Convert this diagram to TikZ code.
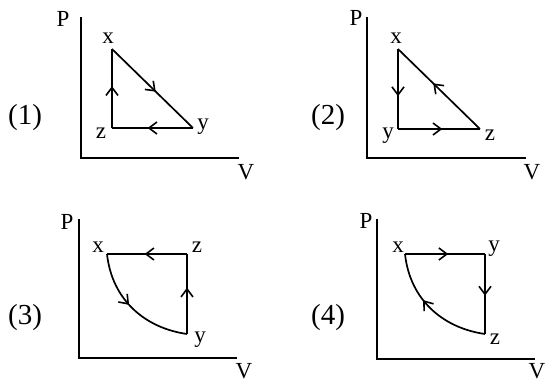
\documentclass[tikz,border=0pt]{standalone}
\usepackage{fontspec}
\setmainfont{Liberation Serif}
\usetikzlibrary{arrows.meta,decorations.markings}
\tikzset{
  axisline/.style={line width=2pt, line cap=butt},
  cycleline/.style={line width=1.7pt, line join=miter},
  lbl/.style={inner sep=0pt, font=\fontsize{23}{24}\selectfont},
  num/.style={inner sep=0pt, font=\fontsize{29}{30}\selectfont},
  midarrow/.style={postaction={decorate,decoration={markings,
    mark=at position #1 with {\arrow{Straight Barb[length=8pt,width=12pt,line width=1.6pt]}}}}},
  pt/.style={coordinate}
}
\begin{document}
\begin{tikzpicture}[x=1pt,y=-1pt]
\useasboundingbox (0,0) rectangle (547,383);
% ---------- Panel 1 ----------
\coordinate (o1) at (81,158);
\coordinate (t1) at (81,17);
\coordinate (r1) at (239,158);
\draw[axisline] (t1) -- (o1) -- (r1);
\node[lbl] (P1) at (63,19) {P};
\node[lbl] (V1) at (246,172) {V};
\node[num] (n1) at (25,118) {(1)};
\coordinate (x1) at (112,49);
\coordinate (y1) at (193,128);
\coordinate (z1) at (112,128);
\node[lbl] (lx1) at (108,38) {x};
\node[lbl] (ly1) at (203,127) {y};
\node[lbl] (lz1) at (101,133) {z};
\draw[cycleline, midarrow=0.54] (x1) -- (y1);
\draw[cycleline, midarrow=0.56] (y1) -- (z1);
\draw[cycleline, midarrow=0.53] (z1) -- (x1);
% ---------- Panel 2 ----------
\coordinate (o2) at (367,158);
\coordinate (t2) at (367,17);
\coordinate (r2) at (526,158);
\draw[axisline] (t2) -- (o2) -- (r2);
\node[lbl] (P2) at (356,18) {P};
\node[lbl] (V2) at (532,172) {V};
\node[num] (n2) at (328,118) {(2)};
\coordinate (x2) at (398,49);
\coordinate (y2) at (398,129);
\coordinate (z2) at (480,129);
\node[lbl] (lx2) at (396,38) {x};
\node[lbl] (ly2) at (388,136) {y};
\node[lbl] (lz2) at (490,135) {z};
\draw[cycleline, midarrow=0.59] (x2) -- (y2);
\draw[cycleline, midarrow=0.54] (y2) -- (z2);
\draw[cycleline, midarrow=0.57] (z2) -- (x2);
% ---------- Panel 3 ----------
\coordinate (o3) at (79,358);
\coordinate (t3) at (79,219);
\coordinate (r3) at (237,358);
\draw[axisline] (t3) -- (o3) -- (r3);
\node[lbl] (P3) at (67,222) {P};
\node[lbl] (V3) at (244,371) {V};
\node[num] (n3) at (25,318) {(3)};
\coordinate (x3) at (107,254);
\coordinate (z3) at (187,254);
\coordinate (y3) at (187,334);
\node[lbl] (lx3) at (98,247) {x};
\node[lbl] (lz3) at (197,247) {z};
\node[lbl] (ly3) at (200,340) {y};
\draw[cycleline, midarrow=0.46] (x3) .. controls (112,300) and (145,328) .. (y3);
\draw[cycleline, midarrow=0.58] (y3) -- (z3);
\draw[cycleline, midarrow=0.53] (z3) -- (x3);
% ---------- Panel 4 ----------
\coordinate (o4) at (377,359);
\coordinate (t4) at (377,219);
\coordinate (r4) at (535,359);
\draw[axisline] (t4) -- (o4) -- (r4);
\node[lbl] (P4) at (366,221) {P};
\node[lbl] (V4) at (537,371) {V};
\node[num] (n4) at (328,318) {(4)};
\coordinate (x4) at (405,254);
\coordinate (y4) at (485,254);
\coordinate (z4) at (485,334);
\node[lbl] (lx4) at (398,247) {x};
\node[lbl] (ly4) at (494,249) {y};
\node[lbl] (lz4) at (495,339) {z};
\draw[cycleline, midarrow=0.54] (x4) -- (y4);
\draw[cycleline, midarrow=0.52] (y4) -- (z4);
\draw[cycleline, midarrow=0.59] (z4) .. controls (443,328) and (410,300) .. (x4);
\end{tikzpicture}
\end{document}
